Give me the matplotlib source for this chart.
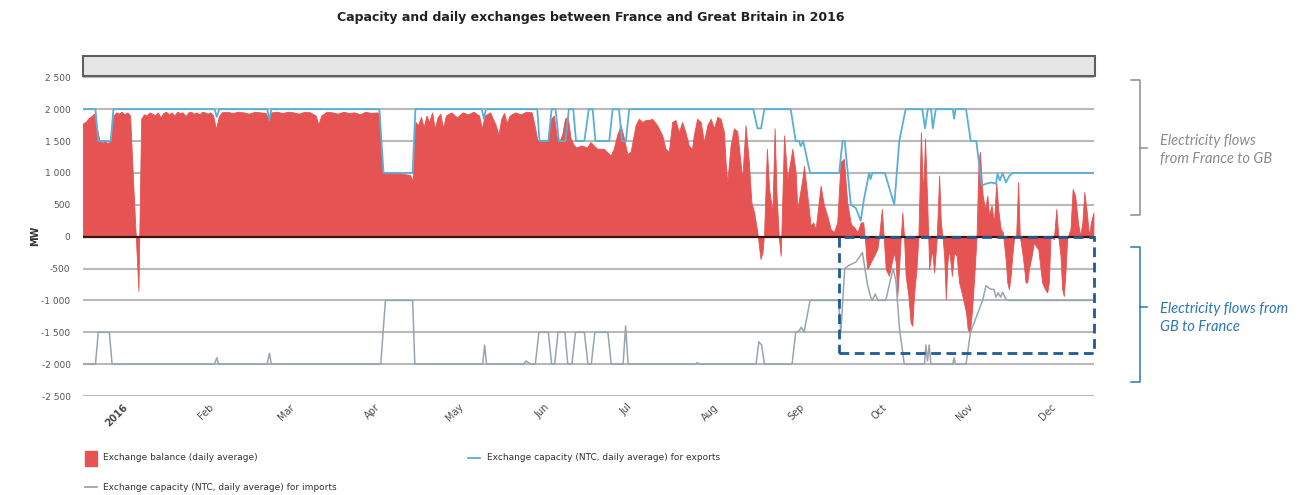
import matplotlib
matplotlib.use("Agg")
import matplotlib.pyplot as plt
import matplotlib.transforms as mtransforms
from matplotlib.patches import Rectangle
from matplotlib.lines import Line2D
import numpy as np

plt.rcParams['font.family'] = ['DejaVu Sans']

# day of year (0 = 1 Jan 2016), MW
balance = np.array([
    [0, 1780], [1, 1800], [2, 1860], [3, 1890], [4, 1930], [5, 1700], [6, 1500], [7, 1480],
    [8, 1490], [9, 1470], [10, 1500], [11, 1900], [12, 1950], [13, 1930], [14, 1960], [15, 1920],
    [16, 1950], [17, 1900], [18, 950], [19, 60], [20, -850], [21, 1850], [22, 1920], [23, 1900],
    [24, 1950], [25, 1930], [26, 1900], [27, 1950], [28, 1870], [29, 1940], [30, 1960], [31, 1920],
    [32, 1950], [33, 1900], [34, 1960], [35, 1940], [36, 1950], [37, 1890], [38, 1950], [39, 1960],
    [40, 1930], [41, 1950], [42, 1920], [43, 1960], [44, 1950], [45, 1930], [46, 1950], [47, 1900],
    [48, 1690], [49, 1880], [50, 1950], [52, 1960], [54, 1940], [56, 1960], [58, 1950], [60, 1930],
    [62, 1960], [64, 1950], [66, 1940], [67, 1830], [68, 1950], [70, 1960], [72, 1940], [74, 1960],
    [76, 1950], [78, 1930], [80, 1960], [82, 1950], [84, 1900], [85, 1760], [86, 1900], [88, 1960],
    [90, 1950], [92, 1930], [94, 1960], [96, 1940], [98, 1950], [100, 1920], [102, 1960], [104, 1940],
    [106, 1950], [107, 1940], [108, 1010], [110, 1000], [112, 990], [114, 1000], [116, 980], [118, 970],
    [119, 880], [120, 1800], [121, 1750], [122, 1880], [123, 1720], [124, 1900], [125, 1800], [126, 1950],
    [127, 1700], [128, 1870], [129, 1930], [130, 1700], [131, 1900], [133, 1950], [135, 1870], [137, 1950],
    [139, 1920], [141, 1960], [143, 1900], [144, 1700], [145, 1900], [147, 1950], [149, 1750], [150, 1600],
    [151, 1850], [152, 1940], [153, 1780], [154, 1900], [156, 1950], [158, 1920], [160, 1960], [162, 1950],
    [163, 1750], [164, 1520], [166, 1500], [168, 1520], [169, 1850], [170, 1900], [171, 1580], [172, 1500],
    [173, 1600], [174, 1850], [175, 1880], [176, 1550], [177, 1450], [178, 1400], [180, 1430], [182, 1400],
    [183.2, 1485], [185.6, 1380], [188, 1380], [189.2, 1330], [190.5, 1275], [191.6, 1380], [192.8, 1590],
    [194.1, 1750], [195.3, 1540], [196.5, 1300], [197.7, 1330], [199.5, 1750], [200.7, 1850], [201.9, 1800],
    [203.1, 1830], [204.3, 1830], [205.5, 1850], [207.3, 1750], [209.1, 1590], [210.3, 1380], [211.5, 1330],
    [212.7, 1800], [213.9, 1830], [215.1, 1640], [216.3, 1800], [217.5, 1640], [218.7, 1430], [219.9, 1380],
    [220.5, 1590], [221.7, 1850], [223, 1800], [224.2, 1485], [225.4, 1750], [226.6, 1850], [227.8, 1700],
    [229, 1880], [230.2, 1850], [231.4, 1640], [232, 1170], [232.6, 855], [233.8, 1430], [235, 1700],
    [236.2, 1650], [237.4, 1150], [238, 900], [239.2, 1750], [240.4, 1170], [241.3, 540], [242.3, 380],
    [243.5, 60], [244.6, -350], [245.3, -250], [245.9, 60], [246.9, 1380], [247.7, 750], [248.9, 380],
    [249.7, 1700], [250.4, 650], [251.2, 0], [251.9, -300], [252.5, 650], [253.1, 1590], [254.3, 900],
    [255.5, 1220], [256.1, 1380], [257.3, 1010], [257.9, 430], [259.7, 900], [260.3, 1110], [261.5, 645],
    [262.7, 170], [263.6, 225], [264.5, 120], [266.3, 800], [267.5, 490], [268.7, 330], [269.9, 120],
    [271.1, 70], [272.3, 225], [273.5, 1170], [274.7, 1220], [275.9, 540], [277.1, 225], [277.6, 175],
    [278.4, 150], [279.6, 70], [280.8, 225], [281.7, 225], [282.4, -90], [282.9, -400], [283.2, -510],
    [284.4, -400], [285.6, -300], [286.8, -190], [287.4, 0], [288.4, 435], [289.2, -90], [289.8, -510],
    [291, -615], [292, -400], [292.8, -250], [293.4, -400], [294, -930], [294.6, -510], [295.2, -40],
    [295.8, 380], [296.4, 15], [297, -615], [298, -930], [298.8, -1350], [299.4, -1400], [300, -930],
    [300.9, -510], [301.6, 0], [302.5, 1640], [303.3, 650], [304, 1540], [304.9, 380], [305.5, -510],
    [306.5, -200], [307.3, -560], [308.2, -40], [309.1, 960], [309.7, 225], [310.3, 0], [310.9, -300],
    [311.5, -980], [312.1, -400], [312.7, -200], [313.7, -615], [314.5, -250], [315.4, -300], [316.3, -720],
    [317.5, -930], [318.8, -1190], [319.4, -1450], [320.2, -1500], [320.9, -1190], [321.8, -615], [322.6, 0],
    [323.3, 1170], [323.8, 1330], [324.8, 645], [325.7, 435], [326.5, 645], [327.1, 330], [328, 490],
    [328.9, 225], [329.7, 855], [330.4, 435], [331.3, 120], [332.1, 70], [333.1, -350], [333.7, -720],
    [334.3, -825], [334.9, -615], [335.5, -300], [336.1, -40], [336.9, 15], [337.6, 855], [338.2, 15],
    [339.1, -250], [339.7, -460], [340.3, -720], [340.9, -720], [341.5, -510], [342.5, -300], [343.3, -90],
    [343.9, -140], [344.9, -200], [345.7, -510], [346.3, -720], [347.3, -825], [348.1, -875], [348.7, -720],
    [349.3, 15], [350.5, -40], [351.4, 435], [352.1, 15], [352.9, -300], [353.5, -825], [354.1, -930],
    [354.7, -560], [355.3, -40], [356.5, 120], [357.3, 750], [358.2, 645], [359.2, 225], [360, 15],
    [360.8, 225], [361.5, 700], [362.4, 380], [363.2, 15], [363.9, 225], [364.8, 380],
])

ntc_exports = np.array([
    [0, 2000], [4.5, 2000], [5.5, 1500], [10, 1500], [11, 2000], [47.5, 2000], [48.3, 1880], [49.2, 2000],
    [66.5, 2000], [67.3, 1830], [68, 2000], [107, 2000], [108.5, 1000], [119, 1000], [120, 2000],
    [144, 2000], [144.7, 1850], [145.5, 2000], [164, 2000], [164.8, 1500], [168, 1500], [169.2, 2000],
    [170.6, 2000], [171.8, 1500], [174.2, 1500], [175.4, 2000], [177, 2000], [178, 1500], [181, 1500],
    [182.6, 2000], [184, 2000], [185, 1500], [190, 1500], [191.2, 2000], [193.5, 2000], [194.6, 1500],
    [196, 1500], [197.2, 2000], [242, 2000], [243.5, 1700], [244.8, 1700], [246, 2000], [255.5, 2000],
    [257.3, 1500], [258.5, 1500], [259.1, 1420], [260, 1500], [262.5, 1000], [273, 1000], [274.2, 1500],
    [275, 1500], [277.2, 500], [279, 450], [280.8, 250], [282, 600], [283.8, 1000], [284.3, 900],
    [285, 1000], [289.5, 1000], [292.9, 500], [294.7, 1500], [297, 2000], [303, 2000], [304, 1700],
    [305, 2000], [306.2, 2000], [306.8, 1700], [307.9, 2000], [314, 2000], [314.5, 1850], [315, 2000],
    [318.8, 2000], [320.5, 1500], [322.5, 1500], [324.5, 800], [326, 830], [328, 850], [329.6, 830],
    [330.2, 990], [331, 880], [332, 1000], [333.2, 850], [334.4, 950], [335.6, 1000], [365, 1000],
])

ntc_imports = np.array([
    [0, -2000], [4.5, -2000], [5.5, -1500], [9.5, -1500], [10.5, -2000], [47.5, -2000], [48.3, -1900],
    [49, -2000], [66.5, -2000], [67.3, -1830], [68, -2000], [107.5, -2000], [108.5, -1400], [109.2, -1000],
    [119, -1000], [119.8, -2000], [144.3, -2000], [145, -1700], [145.7, -2000], [159, -2000], [160, -1950],
    [161.5, -2000], [163.3, -2000], [164.6, -1500], [168, -1500], [169.2, -2000], [170.3, -2000],
    [171.5, -1500], [174, -1500], [175, -2000], [176.5, -2000], [177.8, -1500], [181, -1500], [182.3, -2000],
    [183.5, -2000], [184.8, -1500], [189.5, -1500], [190.7, -2000], [195, -2000], [195.9, -1400],
    [196.8, -2000], [221.3, -2000], [221.8, -1975], [222.3, -2000], [243, -2000], [244, -1650],
    [245, -1700], [246, -2000], [256, -2000], [257.3, -1500], [258.5, -1480], [259.3, -1420], [260.3, -1500],
    [262.5, -1000], [272.7, -1000], [273.6, -1500], [275, -500], [276.5, -450], [279, -400], [281.4, -250],
    [283.2, -750], [284.4, -950], [285, -1000], [286, -900], [287, -1000], [289.8, -1000], [292.5, -500],
    [293.5, -700], [294.8, -1450], [296.5, -2000], [303.8, -2000], [304.3, -1700], [304.9, -1950],
    [305.5, -1700], [306.1, -2000], [314, -2000], [314.5, -1900], [315, -2000], [318.8, -2000],
    [320.4, -1500], [324.8, -1000], [326, -770], [327.5, -820], [328.9, -830], [329.6, -950], [330.4, -880],
    [331.3, -950], [332, -870], [333.2, -980], [334.4, -1000], [365, -1000],
])

month_starts = [0, 31, 60, 91, 121, 152, 182, 213, 244, 274, 305, 335]
month_labels = ['2016', 'Feb', 'Mar', 'Apr', 'May', 'Jun', 'Jul', 'Aug', 'Sep', 'Oct', 'Nov', 'Dec']
y_ticks = list(range(-2500, 2501, 500))

W, H = 1300, 495
fig = plt.figure(figsize=(W / 100, H / 100), dpi=100)


def px(x, y):
    return x / W, 1 - y / H


ax = fig.add_axes([83 / W, 1 - 396 / H, (1094 - 83) / W, (396 - 55) / H])
ax.set_xlim(0, 365)
ax.set_ylim(-2500, 2850)

red = '#e55353'
blue = '#5aafd9'
grey = '#98a5ae'
ax.fill_between(balance[:, 0], 0, balance[:, 1], color=red, lw=0.6, edgecolor=red, zorder=2)
ax.plot(ntc_exports[:, 0], ntc_exports[:, 1], color=blue, lw=1.3, zorder=3)
ax.plot(ntc_imports[:, 0], ntc_imports[:, 1], color=grey, lw=1.1, zorder=3)
ax.axhline(0, color='#3d1414', lw=1.6, zorder=4)

# grey frame on top of plot area
trans = mtransforms.blended_transform_factory(ax.transAxes, ax.transData)
ax.add_patch(Rectangle((0, 2525), 1.001, 305, transform=trans, facecolor='#e6e6e6',
                       edgecolor='#5f5f5f', lw=1.5, zorder=3, clip_on=False))

# dashed highlight box (flows GB -> France)
ax.add_patch(Rectangle((273, -1830), 92, 1830, fill=False, edgecolor='#1f5a96', lw=2,
                       linestyle=(0, (3.5, 2)), zorder=5, clip_on=False))

ax.set_yticks(y_ticks)
ax.set_yticklabels([f"{v:,}".replace(",", " ") for v in y_ticks], fontsize=6.5, color='#555555')
ax.yaxis.grid(True, color='#b9b9b9', lw=1.5)
ax.set_axisbelow(True)
ax.set_xticks(month_starts)
ax.set_xticklabels([])
ax.tick_params(length=0, pad=9)
for s in ax.spines.values():
    s.set_visible(False)

# month labels, rotated and pushed right of their tick like the original
xtrans = mtransforms.blended_transform_factory(ax.transData, ax.transAxes)
shift = mtransforms.ScaledTranslation(0.40, -0.06, fig.dpi_scale_trans)
for d, lab in zip(month_starts, month_labels):
    ax.text(d, 0, lab, transform=xtrans + shift, rotation=45, rotation_mode='anchor',
            ha='right', va='top', fontsize=7, color='#4a4a4a',
            fontweight='bold' if lab == '2016' else 'normal')

fig.text(*px(591, 18), 'Capacity and daily exchanges between France and Great Britain in 2016',
         ha='center', va='center', fontsize=9, fontweight='bold', color='#222222')
fig.text(*px(35, 236), 'MW', rotation=90, ha='center', va='center', fontsize=7,
         fontweight='bold', color='#333333')


# brackets on the right
def bracket(top, bottom, mid, color):
    x = 1140
    pts = [(x - 9, top), (x, top), (x, bottom), (x - 9, bottom)]
    fig.add_artist(Line2D([px(*p)[0] for p in pts], [px(*p)[1] for p in pts], color=color, lw=1.1))
    fig.add_artist(Line2D([px(x, mid)[0], px(x + 7, mid)[0]], [px(x, mid)[1]] * 2, color=color, lw=1.1))


bracket(80, 215, 148, '#8c8c8c')
bracket(247, 382, 307, '#2e75b6')
fig.text(*px(1160, 150), 'Electricity flows\nfrom France to GB', ha='left', va='center',
         fontsize=10.5, style='italic', color='#8c8c8c', linespacing=1.3, family='Lato')
fig.text(*px(1160, 318), 'Electricity flows from\nGB to France', ha='left', va='center',
         fontsize=10.5, style='italic', color='#2e75b6', linespacing=1.3, family='Lato')

# legend
fig.add_artist(Rectangle(px(85, 466), 12 / W, 15 / H, color=red))
fig.text(*px(103, 458), 'Exchange balance (daily average)', ha='left', va='center',
         fontsize=6.5, color='#333333')
fig.add_artist(Line2D([px(468, 0)[0], px(480, 0)[0]], [px(0, 458)[1]] * 2, color=blue, lw=1.3))
fig.text(*px(487, 458), 'Exchange capacity (NTC, daily average) for exports', ha='left', va='center',
         fontsize=6.5, color='#333333')
fig.add_artist(Line2D([px(85, 0)[0], px(97, 0)[0]], [px(0, 487)[1]] * 2, color=grey, lw=1.3))
fig.text(*px(103, 487), 'Exchange capacity (NTC, daily average) for imports', ha='left', va='center',
         fontsize=6.5, color='#333333')

fig.savefig('out.png', dpi=100)
